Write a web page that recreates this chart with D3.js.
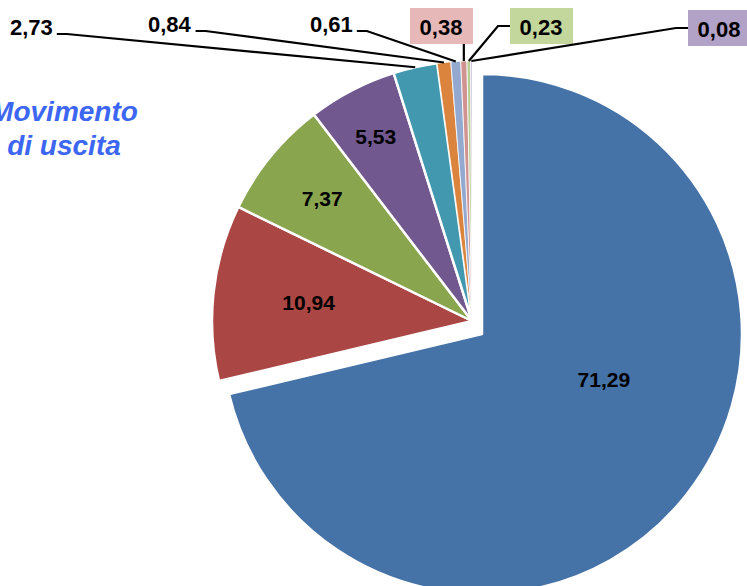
<!DOCTYPE html>
<html>
<head>
<meta charset="utf-8">
<script src="https://cdn.jsdelivr.net/npm/d3@7"></script>
<style>
  body { margin: 0; background: #fff; }
  text { font-family: "Liberation Sans", Arial, sans-serif; }
</style>
</head>
<body>
<div id="chart"></div>
<script>
// slice values (percent), in drawing order clockwise from 12 o'clock
const labels = ["71,29", "10,94", "7,37", "5,53", "2,73", "0,84", "0,61", "0,38", "0,23", "0,08"];
const values = [71.29, 10.94, 7.37, 5.53, 2.73, 0.84, 0.61, 0.38, 0.23, 0.08];
const colors = ["#4572a7", "#aa4643", "#89a54e", "#71588f", "#4198af", "#db843d", "#93a9cf", "#d19392", "#b9cd96", "#a99bbd"];
const boxColors = [null, null, null, null, null, null, null, "#e6b9b8", "#c3d69b", "#b3a2c7"];
const title = ["Movimento", "di uscita"];

const width = 747, height = 586;
const cx = 472, cy = 321, r = 260;
const explode = [10, 13];

const svg = d3.select("#chart").append("svg")
  .attr("width", width)
  .attr("height", height);

const pie = d3.pie().sort(null).value(d => d);
const arcs = pie(values);
const arc = d3.arc().innerRadius(0).outerRadius(r);

const g = svg.append("g").attr("transform", `translate(${cx},${cy})`);

g.selectAll("path.slice")
  .data(arcs)
  .enter().append("path")
  .attr("class", "slice")
  .attr("d", arc)
  .attr("transform", (d, i) => i === 0 ? `translate(${explode[0]},${explode[1]})` : null)
  .style("fill", (d, i) => colors[i])
  .style("stroke", "#fff")
  .style("stroke-width", d => (d.endAngle - d.startAngle) < 0.1 ? 0.8 : 2.5)
  .style("stroke-linejoin", "round");

// inside labels: big slices nearer the middle, narrow ones pushed out
const polar = (a, rad) => [rad * Math.sin(a), -rad * Math.cos(a)];
const inside = arcs.filter(d => d.value > 5);
g.selectAll("text.inner")
  .data(inside)
  .enter().append("text")
  .attr("class", "inner")
  .attr("transform", d => {
    const span = d.endAngle - d.startAngle;
    const spanDeg = span * 180 / Math.PI;
    let a, f;
    if (span > Math.PI) {
      a = d.startAngle + span * 0.43;
      f = 0.5;
    } else {
      a = (d.startAngle + d.endAngle) / 2;
      f = 0.975 - 0.0087 * spanDeg;
    }
    const p = polar(a, r * f);
    const off = d.index === 0 ? explode : [0, 0];
    return `translate(${p[0] + off[0]},${p[1] + off[1]})`;
  })
  .attr("text-anchor", "middle")
  .attr("dy", "0.36em")
  .style("font-size", "21px")
  .style("font-weight", "bold")
  .style("fill", "#000")
  .text(d => labels[d.index]);

// outside callouts (label anchor in page coordinates)
const callouts = [
  { i: 4, x: 10, y: 35, side: "right" },
  { i: 5, x: 148, y: 32, side: "right" },
  { i: 6, x: 310, y: 32, side: "right" },
  { i: 7, x: 441, y: 35, side: "below" },
  { i: 8, x: 541, y: 35, side: "left" },
  { i: 9, x: 719, y: 37, side: "left" }
];

const lineGen = d3.line();
const callG = svg.append("g");
callouts.forEach(c => {
  const d = arcs[c.i];
  const mid = (d.startAngle + d.endAngle) / 2;
  const p = polar(mid, r);
  const end = [cx + p[0], cy + p[1]];
  const boxed = boxColors[c.i] !== null;

  let pts;
  if (boxed) {
    const bx = c.x - 31, bw = 63, by = c.y - 27, bh = 36;
    callG.append("rect")
      .attr("x", bx).attr("y", by)
      .attr("width", bw).attr("height", bh)
      .style("fill", boxColors[c.i]);
    if (c.side === "below") {
      pts = [[end[0], by + bh], end];
    } else {
      const yy = by + bh / 2;
      pts = [[bx, yy], [bx - 12, yy], end];
    }
  }

  const t = callG.append("text")
    .attr("x", c.x)
    .attr("y", c.y)
    .attr("text-anchor", boxed ? "middle" : "start")
    .style("font-size", "22px")
    .style("font-weight", "bold")
    .style("fill", "#000")
    .text(labels[c.i]);

  if (!boxed) {
    const bb = t.node().getBBox();
    const yy = c.y - 1;
    const x0 = bb.x + bb.width + 4;
    pts = [[x0, yy], [x0 + 10, yy], end];
  }
  callG.append("path")
    .attr("d", lineGen(pts))
    .style("fill", "none")
    .style("stroke", "#000")
    .style("stroke-width", 2.2);
});

svg.append("text")
  .attr("x", 64)
  .attr("y", 121)
  .attr("text-anchor", "middle")
  .style("font-size", "28px")
  .style("font-weight", "bold")
  .style("font-style", "italic")
  .style("fill", "#3d66f2")
  .selectAll("tspan")
  .data(title)
  .enter().append("tspan")
  .attr("x", 64)
  .attr("dy", (d, i) => i === 0 ? 0 : 34)
  .text(d => d);
</script>
</body>
</html>
